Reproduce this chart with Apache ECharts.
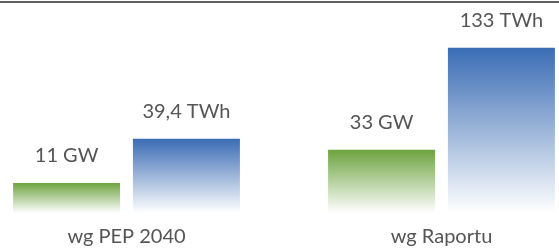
<!DOCTYPE html>
<html>
<head>
<meta charset="utf-8">
<script src="https://cdn.jsdelivr.net/npm/echarts@6/dist/echarts.min.js"></script>
<style>
  html, body { margin: 0; padding: 0; background: #fff; }
  #chart { width: 559px; height: 252px; }
</style>
</head>
<body>
<div id="chart"></div>
<script>
// dane
var categories = ['wg PEP 2040', 'wg Raportu'];
var powerGW = [11, 33];
var energyTWh = [39.4, 133];
var powerLabels = ['11 GW', '33 GW'];
var energyLabels = ['39,4 TWh', '133 TWh'];

var myChart = echarts.init(document.getElementById('chart'));

function grad(top) {
  return new echarts.graphic.LinearGradient(0, 0, 0, 1, [
    { offset: 0, color: top },
    { offset: 1, color: '#ffffff' }
  ]);
}

var labelStyle = {
  show: true,
  position: 'top',
  distance: 17,
  color: '#555555',
  fontFamily: 'Lato',
  fontSize: 20
};

var option = {
  animation: false,
  graphic: [{
    type: 'line',
    shape: { x1: 0, y1: 2, x2: 559, y2: 2 },
    style: { stroke: '#5f5f5f', lineWidth: 2 }
  }],
  grid: { left: -31, right: -40, top: 40, bottom: 39, outerBoundsMode: 'none', containLabel: false },
  xAxis: {
    type: 'category',
    data: categories,
    axisLine: { show: false },
    axisTick: { show: false },
    axisLabel: {
      color: '#555555',
      fontFamily: 'Lato',
      fontSize: 20,
      margin: 14
    }
  },
  yAxis: [
    { type: 'value', min: -9, max: 106, startValue: -9, show: false, splitLine: { show: false } },
    { type: 'value', min: -37, max: 141, startValue: -37, show: false, splitLine: { show: false } }
  ],
  series: [
    {
      name: 'GW',
      type: 'bar',
      yAxisIndex: 0,
      barWidth: 107,
      barGap: '12%',
      data: powerGW,
      itemStyle: { color: grad('#6da33f') },
      label: Object.assign({}, labelStyle, {
        formatter: function (p) { return powerLabels[p.dataIndex]; }
      })
    },
    {
      name: 'TWh',
      type: 'bar',
      yAxisIndex: 1,
      barWidth: 107,
      data: energyTWh,
      itemStyle: { color: grad('#3a6cb4') },
      label: Object.assign({}, labelStyle, {
        formatter: function (p) { return energyLabels[p.dataIndex]; }
      })
    }
  ]
};

myChart.setOption(option);
</script>
</body>
</html>
